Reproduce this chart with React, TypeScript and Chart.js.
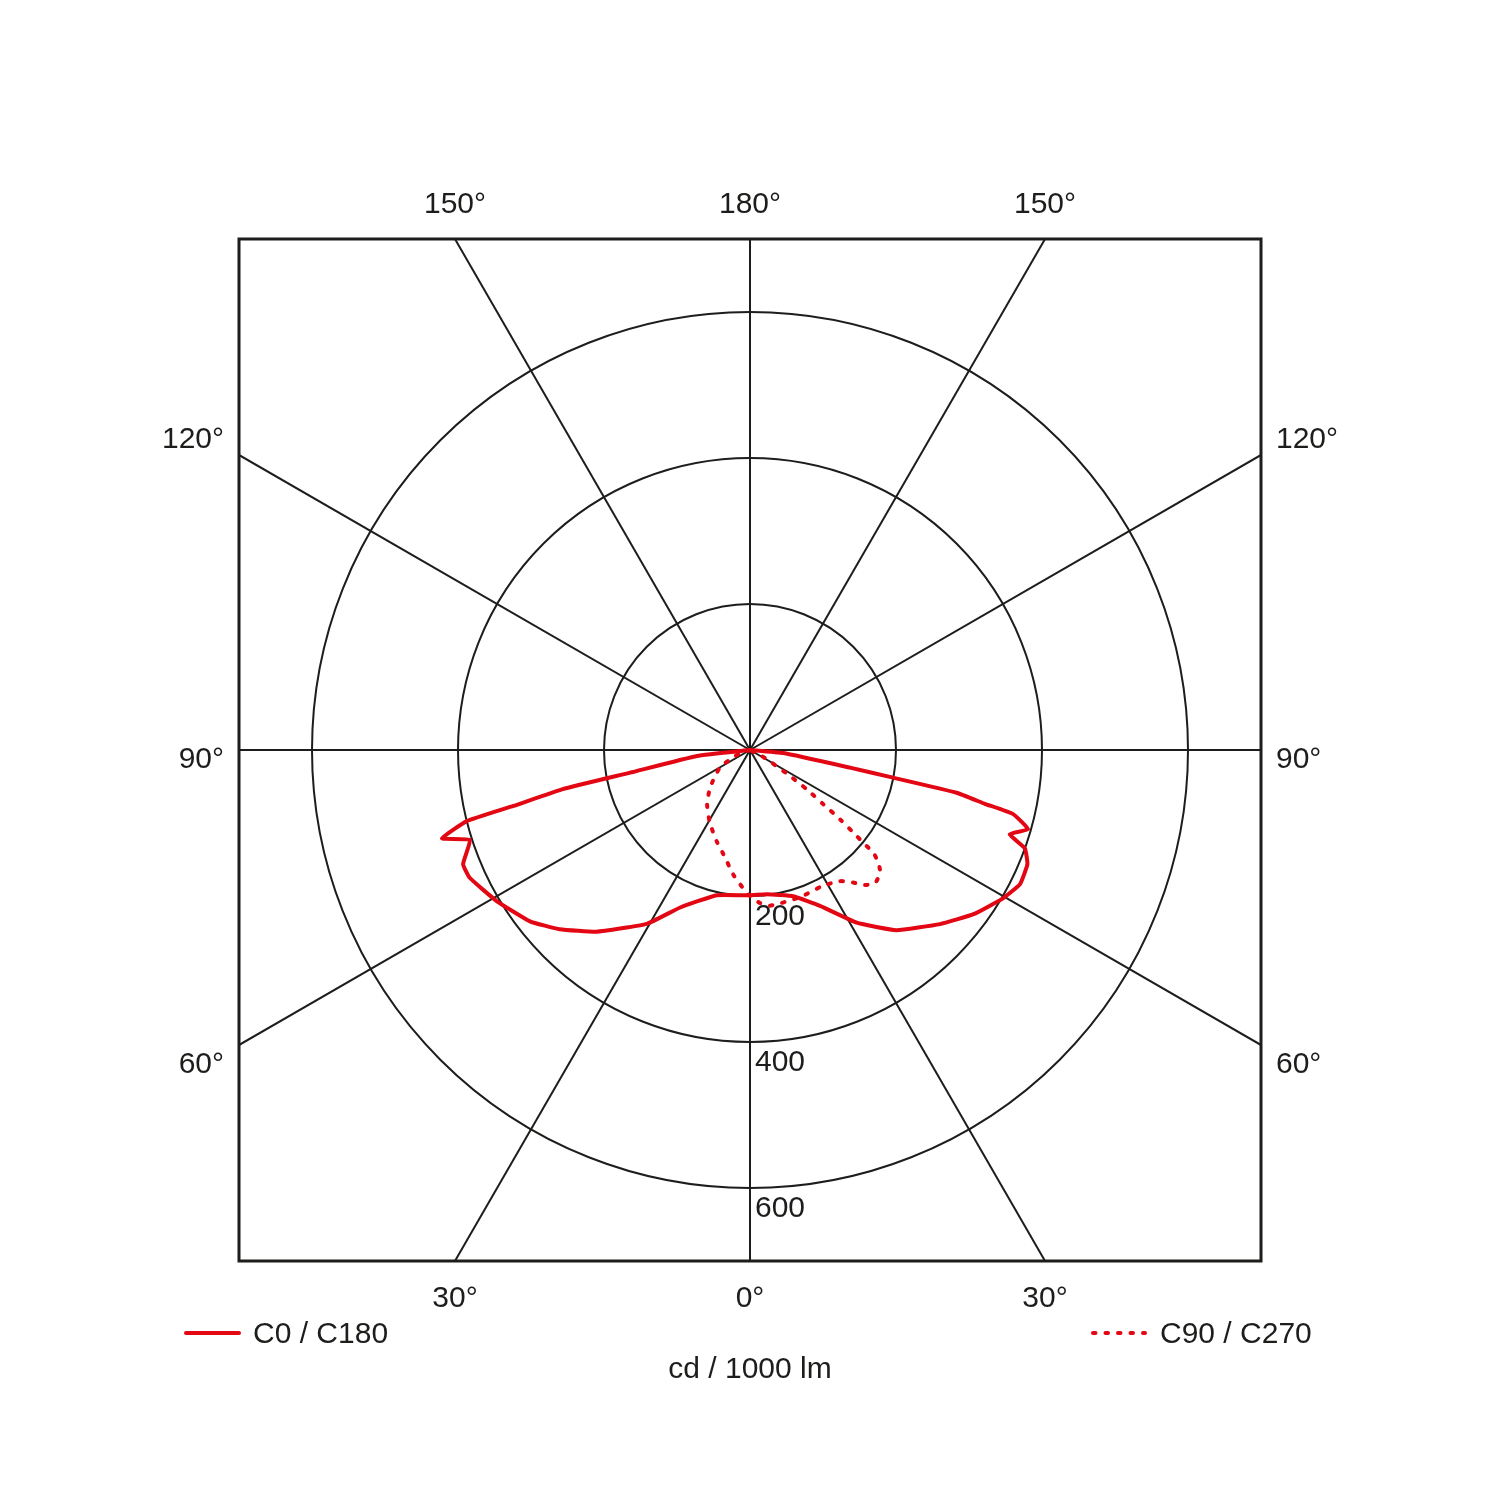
import React, { useEffect, useRef } from 'react';
import { Chart, registerables, Plugin } from 'chart.js';

Chart.register(...registerables);

const colors = {
    red: '#e30613',
    ink: '#1d1d1b',
};

const FONT = '30px "Liberation Sans", Arial, sans-serif';

// luminous intensity (cd / 1000 lm) against gamma angle (deg from nadir)
// C0 plane, right half
const c0Angles = [0, 6.6, 16.5, 24.2, 31.7, 39.1, 47.5, 53.7, 59.7, 63.6, 67.6, 70.3, 72.0, 74.1, 76.3, 77.1, 78.3, 79.1, 80.0, 84.8, 90];
const c0Values = [199, 199, 209, 234, 278, 318, 353, 380, 402, 413, 411, 400, 374, 396, 371, 330, 289, 195, 139, 46, 0];

// C180 plane, left half
const c180Angles = [0, 12.9, 23.9, 30.7, 40.2, 46.7, 52.1, 59.2, 65.5, 68.3, 72.2, 74.0, 75.9, 76.7, 78.2, 79.3, 83.6, 90];
const c180Values = [199, 204, 236, 277, 326, 358, 382, 404, 422, 423, 403, 439, 400, 333, 262, 167, 73, 0];

// C90 plane, right half
const c90Angles = [0, 3.7, 7.3, 18.7, 27.8, 34.5, 37.9, 40.4, 43.3, 46.7, 48.7, 50.2, 50.6, 51.1, 52.4, 53.5, 55.3, 57.0, 59.7, 62.8, 90];
const c90Values = [200, 210, 215, 213, 211, 218, 230, 243, 250, 245, 234, 220, 204, 188, 156, 125, 95, 65, 34, 18, 0];

// C270 plane, left half
const c270Angles = [0, 2.0, 7.7, 13.1, 20.1, 28.8, 38.2, 46.7, 59.5, 68, 90];
const c270Values = [200, 193, 172, 151, 133, 114, 95, 75, 48, 22, 0];

const ringValues = [200, 400, 600];
const spokeAngles = [0, 30, 60, 90, 120, 150, 180, 210, 240, 270, 300, 330];
const topLabels = ['150°', '180°', '150°'];
const bottomLabels = ['30°', '0°', '30°'];
const sideLabels = ['120°', '90°', '60°'];
const legendLabels = ['C0 / C180', 'C90 / C270'];
const unitLabel = 'cd / 1000 lm';
const axisMax = 700;

const rad = (deg: number) => (deg * Math.PI) / 180;

// left half runs from 90° down to nadir, right half from nadir up to 90°
const toPoints = (leftAngles: number[], leftValues: number[], rightAngles: number[], rightValues: number[]) => {
    const pts: { x: number; y: number }[] = [];
    for (let i = leftAngles.length - 1; i >= 0; i--) {
        pts.push({ x: -leftValues[i] * Math.sin(rad(leftAngles[i])), y: -leftValues[i] * Math.cos(rad(leftAngles[i])) });
    }
    for (let i = 1; i < rightAngles.length; i++) {
        pts.push({ x: rightValues[i] * Math.sin(rad(rightAngles[i])), y: -rightValues[i] * Math.cos(rad(rightAngles[i])) });
    }
    return pts;
};

const polarGrid: Plugin = {
    id: 'polarGrid',
    beforeDatasetsDraw(chart) {
        const { ctx, chartArea: a, scales } = chart;
        const x = scales.x;
        const y = scales.y;
        const cx = x.getPixelForValue(0);
        const cy = y.getPixelForValue(0);
        ctx.save();
        ctx.beginPath();
        ctx.rect(a.left, a.top, a.right - a.left, a.bottom - a.top);
        ctx.clip();
        ctx.strokeStyle = colors.ink;
        ctx.lineWidth = 2;
        ringValues.forEach(r => {
            ctx.beginPath();
            ctx.arc(cx, cy, x.getPixelForValue(r) - cx, 0, Math.PI * 2);
            ctx.stroke();
        });
        spokeAngles.forEach(g => {
            const far = axisMax * 2;
            ctx.beginPath();
            ctx.moveTo(cx, cy);
            ctx.lineTo(x.getPixelForValue(far * Math.sin(rad(g))), y.getPixelForValue(-far * Math.cos(rad(g))));
            ctx.stroke();
        });
        ctx.restore();
    },
    afterDraw(chart) {
        const { ctx, chartArea: a, scales } = chart;
        const x = scales.x;
        const y = scales.y;
        const cx = x.getPixelForValue(0);
        const cy = y.getPixelForValue(0);
        ctx.save();
        ctx.strokeStyle = colors.ink;
        ctx.lineWidth = 3;
        ctx.strokeRect(a.left, a.top, a.right - a.left, a.bottom - a.top);

        ctx.font = FONT;
        ctx.fillStyle = colors.ink;
        ctx.textBaseline = 'alphabetic';

        // angle labels where the spokes meet the frame
        const edge = axisMax * Math.tan(rad(30));
        ctx.textAlign = 'center';
        [-edge, 0, edge].forEach((v, i) => {
            ctx.fillText(topLabels[i], x.getPixelForValue(v), a.top - 26);
            ctx.fillText(bottomLabels[i], x.getPixelForValue(v), a.bottom + 46);
        });
        const sideOffsets = [-302, 18, 323];
        sideLabels.forEach((t, i) => {
            ctx.textAlign = 'right';
            ctx.fillText(t, a.left - 15, cy + sideOffsets[i]);
            ctx.textAlign = 'left';
            ctx.fillText(t, a.right + 15, cy + sideOffsets[i]);
        });

        // ring values below each circle
        ctx.textAlign = 'left';
        ringValues.forEach(r => {
            ctx.fillText(String(r), cx + 5, y.getPixelForValue(-r) + 29);
        });

        // legend
        const ly = a.bottom + 72;
        ctx.strokeStyle = colors.red;
        ctx.lineWidth = 4;
        ctx.lineCap = 'round';
        ctx.beginPath();
        ctx.moveTo(186, ly);
        ctx.lineTo(239, ly);
        ctx.stroke();
        ctx.setLineDash([2.5, 10]);
        ctx.beginPath();
        ctx.moveTo(1093, ly);
        ctx.lineTo(1145, ly);
        ctx.stroke();
        ctx.setLineDash([]);
        ctx.fillText(legendLabels[0], 253, ly + 10);
        ctx.fillText(legendLabels[1], 1160, ly + 10);

        ctx.textAlign = 'center';
        ctx.fillText(unitLabel, cx, a.bottom + 117);
        ctx.restore();
    },
};

const App: React.FC = () => {
    const canvasRef = useRef<HTMLCanvasElement>(null);

    useEffect(() => {
        if (!canvasRef.current) return;
        const chart = new Chart(canvasRef.current, {
            type: 'scatter',
            data: {
                datasets: [
                    {
                        label: legendLabels[0],
                        data: toPoints(c180Angles, c180Values, c0Angles, c0Values),
                        showLine: true,
                        borderColor: colors.red,
                        backgroundColor: colors.red,
                        borderWidth: 4,
                        pointRadius: 0,
                        tension: 0.12,
                        borderJoinStyle: 'round',
                        borderCapStyle: 'round',
                    },
                    {
                        label: legendLabels[1],
                        data: toPoints(c270Angles, c270Values, c90Angles, c90Values),
                        showLine: true,
                        borderColor: colors.red,
                        backgroundColor: colors.red,
                        borderWidth: 4,
                        borderDash: [2.5, 10],
                        borderCapStyle: 'round',
                        pointRadius: 0,
                        tension: 0.2,
                    },
                ],
            },
            options: {
                responsive: false,
                animation: false,
                devicePixelRatio: 1,
                layout: { padding: { left: 239, right: 239, top: 239, bottom: 239 } },
                plugins: {
                    legend: { display: false },
                    tooltip: { enabled: false },
                },
                scales: {
                    x: { type: 'linear', min: -axisMax, max: axisMax, display: false },
                    y: { type: 'linear', min: -axisMax, max: axisMax, display: false },
                },
            },
            plugins: [polarGrid],
        });
        return () => chart.destroy();
    }, []);

    return (
        <div style={{ position: 'absolute', left: 0, top: 0, width: 1500, height: 1500, background: '#fff' }}>
            <canvas ref={canvasRef} width={1500} height={1500}></canvas>
        </div>
    );
};

export default App;
